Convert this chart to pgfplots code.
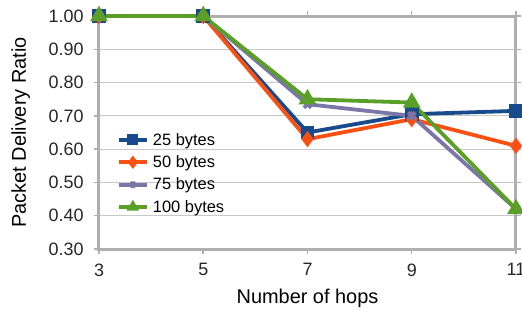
\documentclass[border=0pt]{standalone}
\usepackage{pgfplots}
\pgfplotsset{compat=1.18}
\usepackage{fontspec}
\setmainfont{Liberation Sans}
\definecolor{cblue}{RGB}{23,75,140}
\definecolor{corange}{RGB}{250,80,20}
\definecolor{cpurple}{RGB}{122,118,168}
\definecolor{cgreen}{RGB}{90,160,40}
\definecolor{caxis}{RGB}{175,175,175}
\definecolor{cgrid}{RGB}{200,200,200}
\begin{document}
\begin{tikzpicture}
\path[use as bounding box] (-99bp,-64bp) rectangle (423bp,249bp);
\begin{axis}[
  scale only axis,
  width=417bp, height=233bp,
  xmin=3, xmax=11, ymin=0.3, ymax=1.0,
  xtick={3,5,7,9,11},
  ytick={0.3,0.4,0.5,0.6,0.7,0.8,0.9,1.0},
  yticklabel style={/pgf/number format/fixed, /pgf/number format/fixed zerofill, /pgf/number format/precision=2, xshift=-7bp},
  /pgf/number format/assume math mode=true,
  ymajorgrids,
  major grid style={cgrid, line width=1.2bp},
  axis line style={caxis, line width=3bp},
  tick style={caxis, line width=1.5bp},
  tick align=outside,
  major tick length=5bp,
  ticklabel style={font=\fontsize{18}{21}\selectfont, text=black!85},
  xticklabel style={yshift=-6bp},
  xlabel={Number of hops},
  ylabel={Packet Delivery Ratio},
  label style={font=\fontsize{20}{24}\selectfont},
  xlabel style={at={(axis description cs:0.5,-0.213)}, anchor=center},
  ylabel style={at={(axis description cs:-0.188,0.5)}, anchor=center},
  clip=false,
  legend style={draw=none, fill=none, at={(0.035,0.515)}, anchor=north west,
    font=\fontsize{16.5}{19}\selectfont, row sep=5bp,
    /tikz/every odd column/.append style={column sep=2bp}},
  legend cell align=left,
  legend image code/.code={\draw[mark repeat=2,mark phase=2,#1, mark size=3.5bp] plot coordinates {(0cm,0cm) (0.5cm,0cm) (1cm,0cm)};},
  every axis plot/.append style={line width=3.8bp},
]
\addplot[cblue, mark=square*, mark size=5bp, mark options={solid}] coordinates {(3,1.00) (5,1.00) (7,0.65) (9,0.705) (11,0.715)};
\addlegendentry{25 bytes}
\addplot[corange, mark=diamond*, mark size=5bp] coordinates {(3,1.00) (5,1.00) (7,0.63) (9,0.69) (11,0.61)};
\addlegendentry{50 bytes}
\addplot[cpurple, mark=x, mark size=5bp] coordinates {(3,1.00) (5,1.00) (7,0.735) (9,0.70) (11,0.42)};
\addlegendentry{75 bytes}
\addplot[cgreen, mark=triangle*, mark size=6.5bp] coordinates {(3,1.00) (5,1.00) (7,0.75) (9,0.74) (11,0.42)};
\addlegendentry{100 bytes}
\end{axis}
\end{tikzpicture}
\end{document}
